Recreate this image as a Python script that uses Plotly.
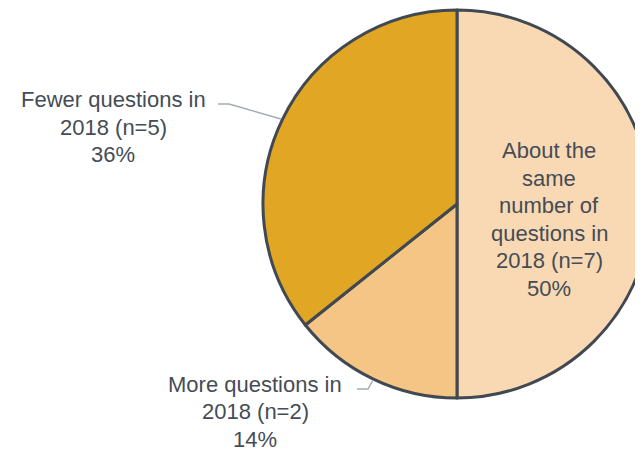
import plotly.graph_objects as go

W, H = 643, 452
# the page body adds a small margin; target screen positions are shifted by it
OFF = 8

# Data
categories = ["About the same number of questions in 2018", "More questions in 2018", "Fewer questions in 2018"]
counts = [7, 2, 5]
percents = [50, 14, 36]
colors = ["#F8D9B4", "#F4C584", "#E1A624"]
label_lines = [
    ["About the", "same", "number of", "questions in"],
    ["More questions in"],
    ["Fewer questions in"],
]

def px(x):
    return (x - OFF) / W

def py(y):
    return 1 - (y - OFF) / H

fig = go.Figure()
fig.add_trace(go.Pie(
    labels=categories,
    values=counts,
    sort=False,
    direction="clockwise",
    rotation=0,
    marker=dict(colors=colors, line=dict(color="#404851", width=3)),
    textinfo="none",
    hoverinfo="label+value+percent",
    showlegend=False,
    domain=dict(x=[px(263), 1.0], y=[py(398), py(10)]),
))

text_color = "#454C56"
FS = 22
font = dict(family="Liberation Sans, Arial, sans-serif", size=FS, color=text_color)
SPACING = 27.5

# x centre and first baseline of each label block (screen pixels)
label_pos = [(549, 158), (255, 391.5), (113, 107)]
for lines, n, p, (x, b0) in zip(label_lines, counts, percents, label_pos):
    all_lines = lines + [f"2018 (n={n})", f"{p}%"]
    for i, t in enumerate(all_lines):
        yb = b0 + i * SPACING
        fig.add_annotation(
            x=px(x), y=py(yb - 0.33 * FS), xref="paper", yref="paper",
            text=t, showarrow=False, xanchor="center", yanchor="middle",
            align="center", font=font,
        )

# leader lines
leaders = [
    [(218, 104), (229, 104), (281, 119)],
    [(357, 389), (368, 389), (373, 380)],
]
for pts in leaders:
    path = "M " + " L ".join(f"{px(a)},{py(b)}" for a, b in pts)
    fig.add_shape(type="path", path=path, xref="paper", yref="paper",
                  line=dict(color="#A3ABB8", width=1.5))

fig.update_layout(
    width=W, height=H,
    margin=dict(l=0, r=0, t=0, b=0),
    paper_bgcolor="white",
    plot_bgcolor="white",
)

fig.write_html("out.html")
